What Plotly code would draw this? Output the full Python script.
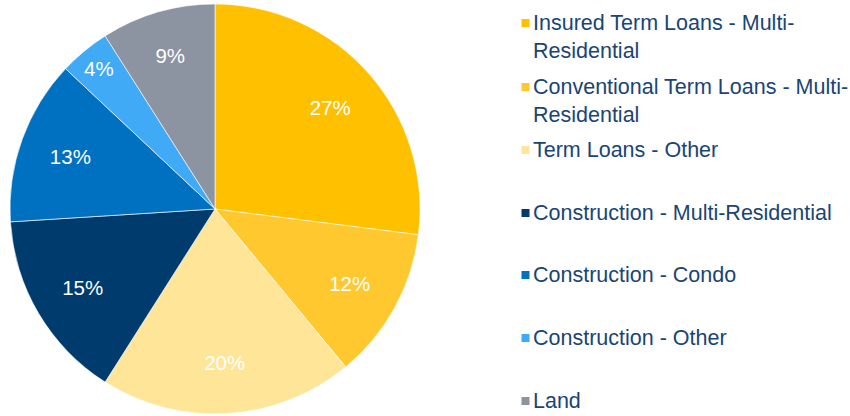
import plotly.graph_objects as go

categories = [
    "Insured Term Loans - Multi-<br>Residential",
    "Conventional Term Loans - Multi-<br>Residential",
    "Term Loans - Other",
    "Construction - Multi-Residential",
    "Construction - Condo",
    "Construction - Other",
    "Land",
]
values = [27, 12, 20, 15, 13, 4, 9]
colors = ["#FFC000", "#FFC82E", "#FFE598", "#003B6E", "#0070C0", "#41AAF7", "#8C93A1"]

W, H = 850, 416
FONT = "Liberation Sans, Arial, sans-serif"
dom = dict(x=[10 / W, 420 / W], y=[2 / H, 412 / H])

fig = go.Figure()
# slices
fig.add_trace(go.Pie(
    labels=categories, values=values, sort=False, direction="clockwise", rotation=0,
    marker=dict(colors=colors, line=dict(color="rgba(255,255,255,0.6)", width=1)),
    textinfo="none", showlegend=False, hoverinfo="label+percent", domain=dom,
))
# percentage labels (transparent ring so the text sits in the outer part of each slice)
fig.add_trace(go.Pie(
    labels=categories, values=values, sort=False, direction="clockwise", rotation=0,
    hole=0.5,
    marker=dict(colors=["rgba(0,0,0,0)"] * len(values), line=dict(width=0)),
    textinfo="percent", textposition="inside", insidetextorientation="horizontal",
    textfont=dict(color="white", size=20.5, family=FONT),
    showlegend=False, hoverinfo="skip", domain=dom,
))

# legend built from the category list
legend_centers = [23, 87, 150, 213, 275, 338, 401]
for cat, col, cy in zip(categories, colors, legend_centers):
    fig.add_annotation(
        x=531 / W, y=1 - (cy - 14.5) / H, xref="paper", yref="paper",
        xanchor="left", yanchor="top", align="left", showarrow=False,
        text=cat,
        font=dict(size=21.5, color="#194575", family=FONT),
    )
    fig.add_shape(
        type="rect", xref="paper", yref="paper",
        x0=521.5 / W, x1=529.5 / W, y0=1 - (cy + 4) / H, y1=1 - (cy - 4) / H,
        fillcolor=col, line=dict(width=0),
    )

fig.update_layout(
    width=W, height=H,
    margin=dict(l=0, r=0, t=0, b=0),
    paper_bgcolor="white", plot_bgcolor="white",
)
fig.write_html("out.html", config={"displayModeBar": False},
               post_script="document.body.style.margin='0px';")
